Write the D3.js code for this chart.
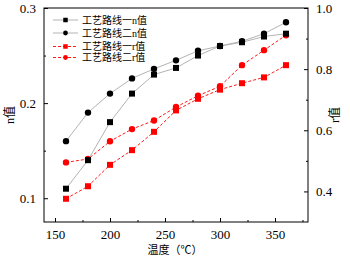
<!DOCTYPE html>
<html>
<head>
<meta charset="utf-8">
<script src="https://cdn.jsdelivr.net/npm/d3@7"></script>
<style>
  body { margin: 0; background: #fff; }
  text { font-family: "Liberation Serif", "Noto Sans CJK SC", serif; }
</style>
</head>
<body>
<script>
// 温度与两条工艺路线的 n 值 / r 值
const temps = [160, 180, 200, 220, 240, 260, 280, 300, 320, 340, 360];
const n_route1 = [0.110, 0.140, 0.180, 0.210, 0.230, 0.237, 0.250, 0.260, 0.264, 0.270, 0.273];
const n_route2 = [0.160, 0.190, 0.210, 0.226, 0.236, 0.245, 0.255, 0.260, 0.265, 0.273, 0.285];
const r_route1 = [0.376, 0.417, 0.487, 0.535, 0.595, 0.665, 0.703, 0.733, 0.754, 0.773, 0.813];
const r_route2 = [0.495, 0.506, 0.564, 0.604, 0.632, 0.676, 0.713, 0.744, 0.813, 0.862, 0.911];

const x_ticks = [150, 200, 250, 300, 350];
const n_ticks = [0.1, 0.2, 0.3];
const r_ticks = [0.4, 0.6, 0.8, 1.0];
const legend_labels = ['工艺路线一n值', '工艺路线二n值', '工艺路线一r值', '工艺路线二r值'];

// 画布
const width = 350;
const height = 259;
const margin = {left: 44, right: 42, top: 8, bottom: 37};

const svg = d3.select('body').append('svg')
    .attr('width', width)
    .attr('height', height);

const x = d3.scaleLinear().domain([140, 380]).range([margin.left, width - margin.right]);
const yn = d3.scaleLinear().domain([0.075, 0.3]).range([height - margin.bottom, margin.top]);
const yr = d3.scaleLinear().domain([0.3, 1.0]).range([height - margin.bottom, margin.top]);

const x0 = margin.left, x1 = width - margin.right;
const y0 = height - margin.bottom, y1 = margin.top;

// 坐标轴（刻度朝内）
const ax_b = svg.append('g').attr('transform', `translate(0,${y0})`)
    .call(d3.axisBottom(x).tickValues(x_ticks).tickSize(-4).tickPadding(8).tickFormat(d3.format('d')));
const ax_b_minor = svg.append('g').attr('transform', `translate(0,${y0})`)
    .call(d3.axisBottom(x).tickValues([175, 225, 275, 325, 375]).tickSize(-2).tickFormat(''));
const ax_l = svg.append('g').attr('transform', `translate(${x0},0)`)
    .call(d3.axisLeft(yn).tickValues(n_ticks).tickSize(-4).tickPadding(8).tickFormat(d => d.toFixed(1)));
const ax_l_minor = svg.append('g').attr('transform', `translate(${x0},0)`)
    .call(d3.axisLeft(yn).tickValues([0.15, 0.25]).tickSize(-2).tickFormat(''));
const ax_r = svg.append('g').attr('transform', `translate(${x1},0)`)
    .call(d3.axisRight(yr).tickValues(r_ticks).tickSize(-4).tickPadding(8).tickFormat(d => d.toFixed(1)));
const ax_r_minor = svg.append('g').attr('transform', `translate(${x1},0)`)
    .call(d3.axisRight(yr).tickValues([0.5, 0.7, 0.9]).tickSize(-2).tickFormat(''));

for (const g of [ax_b, ax_b_minor, ax_l, ax_l_minor, ax_r, ax_r_minor]) {
    g.select('.domain').remove();
    g.selectAll('line').attr('stroke', '#000').attr('stroke-width', 1);
    g.selectAll('text').attr('font-size', 13).attr('fill', '#000')
        .style('font-family', '"Liberation Serif", serif');
}

// 外框
svg.append('rect')
    .attr('x', x0).attr('y', y1)
    .attr('width', x1 - x0).attr('height', y0 - y1)
    .attr('fill', 'none').attr('stroke', '#000').attr('stroke-width', 1);

// 轴标题
svg.append('text')
    .attr('x', 175).attr('y', 254)
    .attr('text-anchor', 'middle').attr('font-size', 11)
    .text('温度（℃）');
svg.append('text')
    .attr('transform', `translate(14,${(y0 + y1) / 2}) rotate(-90)`)
    .attr('text-anchor', 'middle').attr('font-size', 12)
    .text('n值');
svg.append('text')
    .attr('transform', `translate(339,${(y0 + y1) / 2}) rotate(-90)`)
    .attr('text-anchor', 'middle').attr('font-size', 12)
    .text('r值');

// 系列
const series = [
    {vals: r_route1, y: yr, color: 'red', line: 'red', dash: '3,2', shape: 'square'},
    {vals: r_route2, y: yr, color: 'red', line: 'red', dash: '3,2', shape: 'circle'},
    {vals: n_route1, y: yn, color: '#000', line: '#aaa', dash: null, shape: 'square'},
    {vals: n_route2, y: yn, color: '#000', line: '#aaa', dash: null, shape: 'circle'}
];

function draw_marker(g, shape, cx, cy, color, size = 6) {
    if (shape === 'square') {
        g.append('rect').attr('x', cx - size / 2).attr('y', cy - size / 2)
            .attr('width', size).attr('height', size).attr('fill', color);
    } else {
        g.append('circle').attr('cx', cx).attr('cy', cy).attr('r', size * 0.53).attr('fill', color);
    }
}

for (const s of series) {
    const g = svg.append('g');
    const pts = temps.map((t, i) => [x(t), s.y(s.vals[i])]);
    g.append('path')
        .attr('d', d3.line()(pts))
        .attr('fill', 'none')
        .attr('stroke', s.line)
        .attr('stroke-width', 0.9)
        .attr('stroke-dasharray', s.dash);
    pts.forEach(p => draw_marker(g, s.shape, p[0], p[1], s.color));
}

// 图例
const legend_rows = [20, 33, 46.5, 57.5];
const legend_series = [series[2], series[3], series[0], series[1]];
legend_labels.forEach((lab, i) => {
    const s = legend_series[i];
    const g = svg.append('g');
    const ly = legend_rows[i];
    g.append('line').attr('x1', 53).attr('x2', 78).attr('y1', ly).attr('y2', ly)
        .attr('stroke', s.line).attr('stroke-width', 0.9).attr('stroke-dasharray', s.dash);
    draw_marker(g, s.shape, 65.5, ly, s.color, 4.5);
    g.append('text').attr('x', 82).attr('y', ly + 3.5).attr('font-size', 10).text(lab);
});
</script>
</body>
</html>
